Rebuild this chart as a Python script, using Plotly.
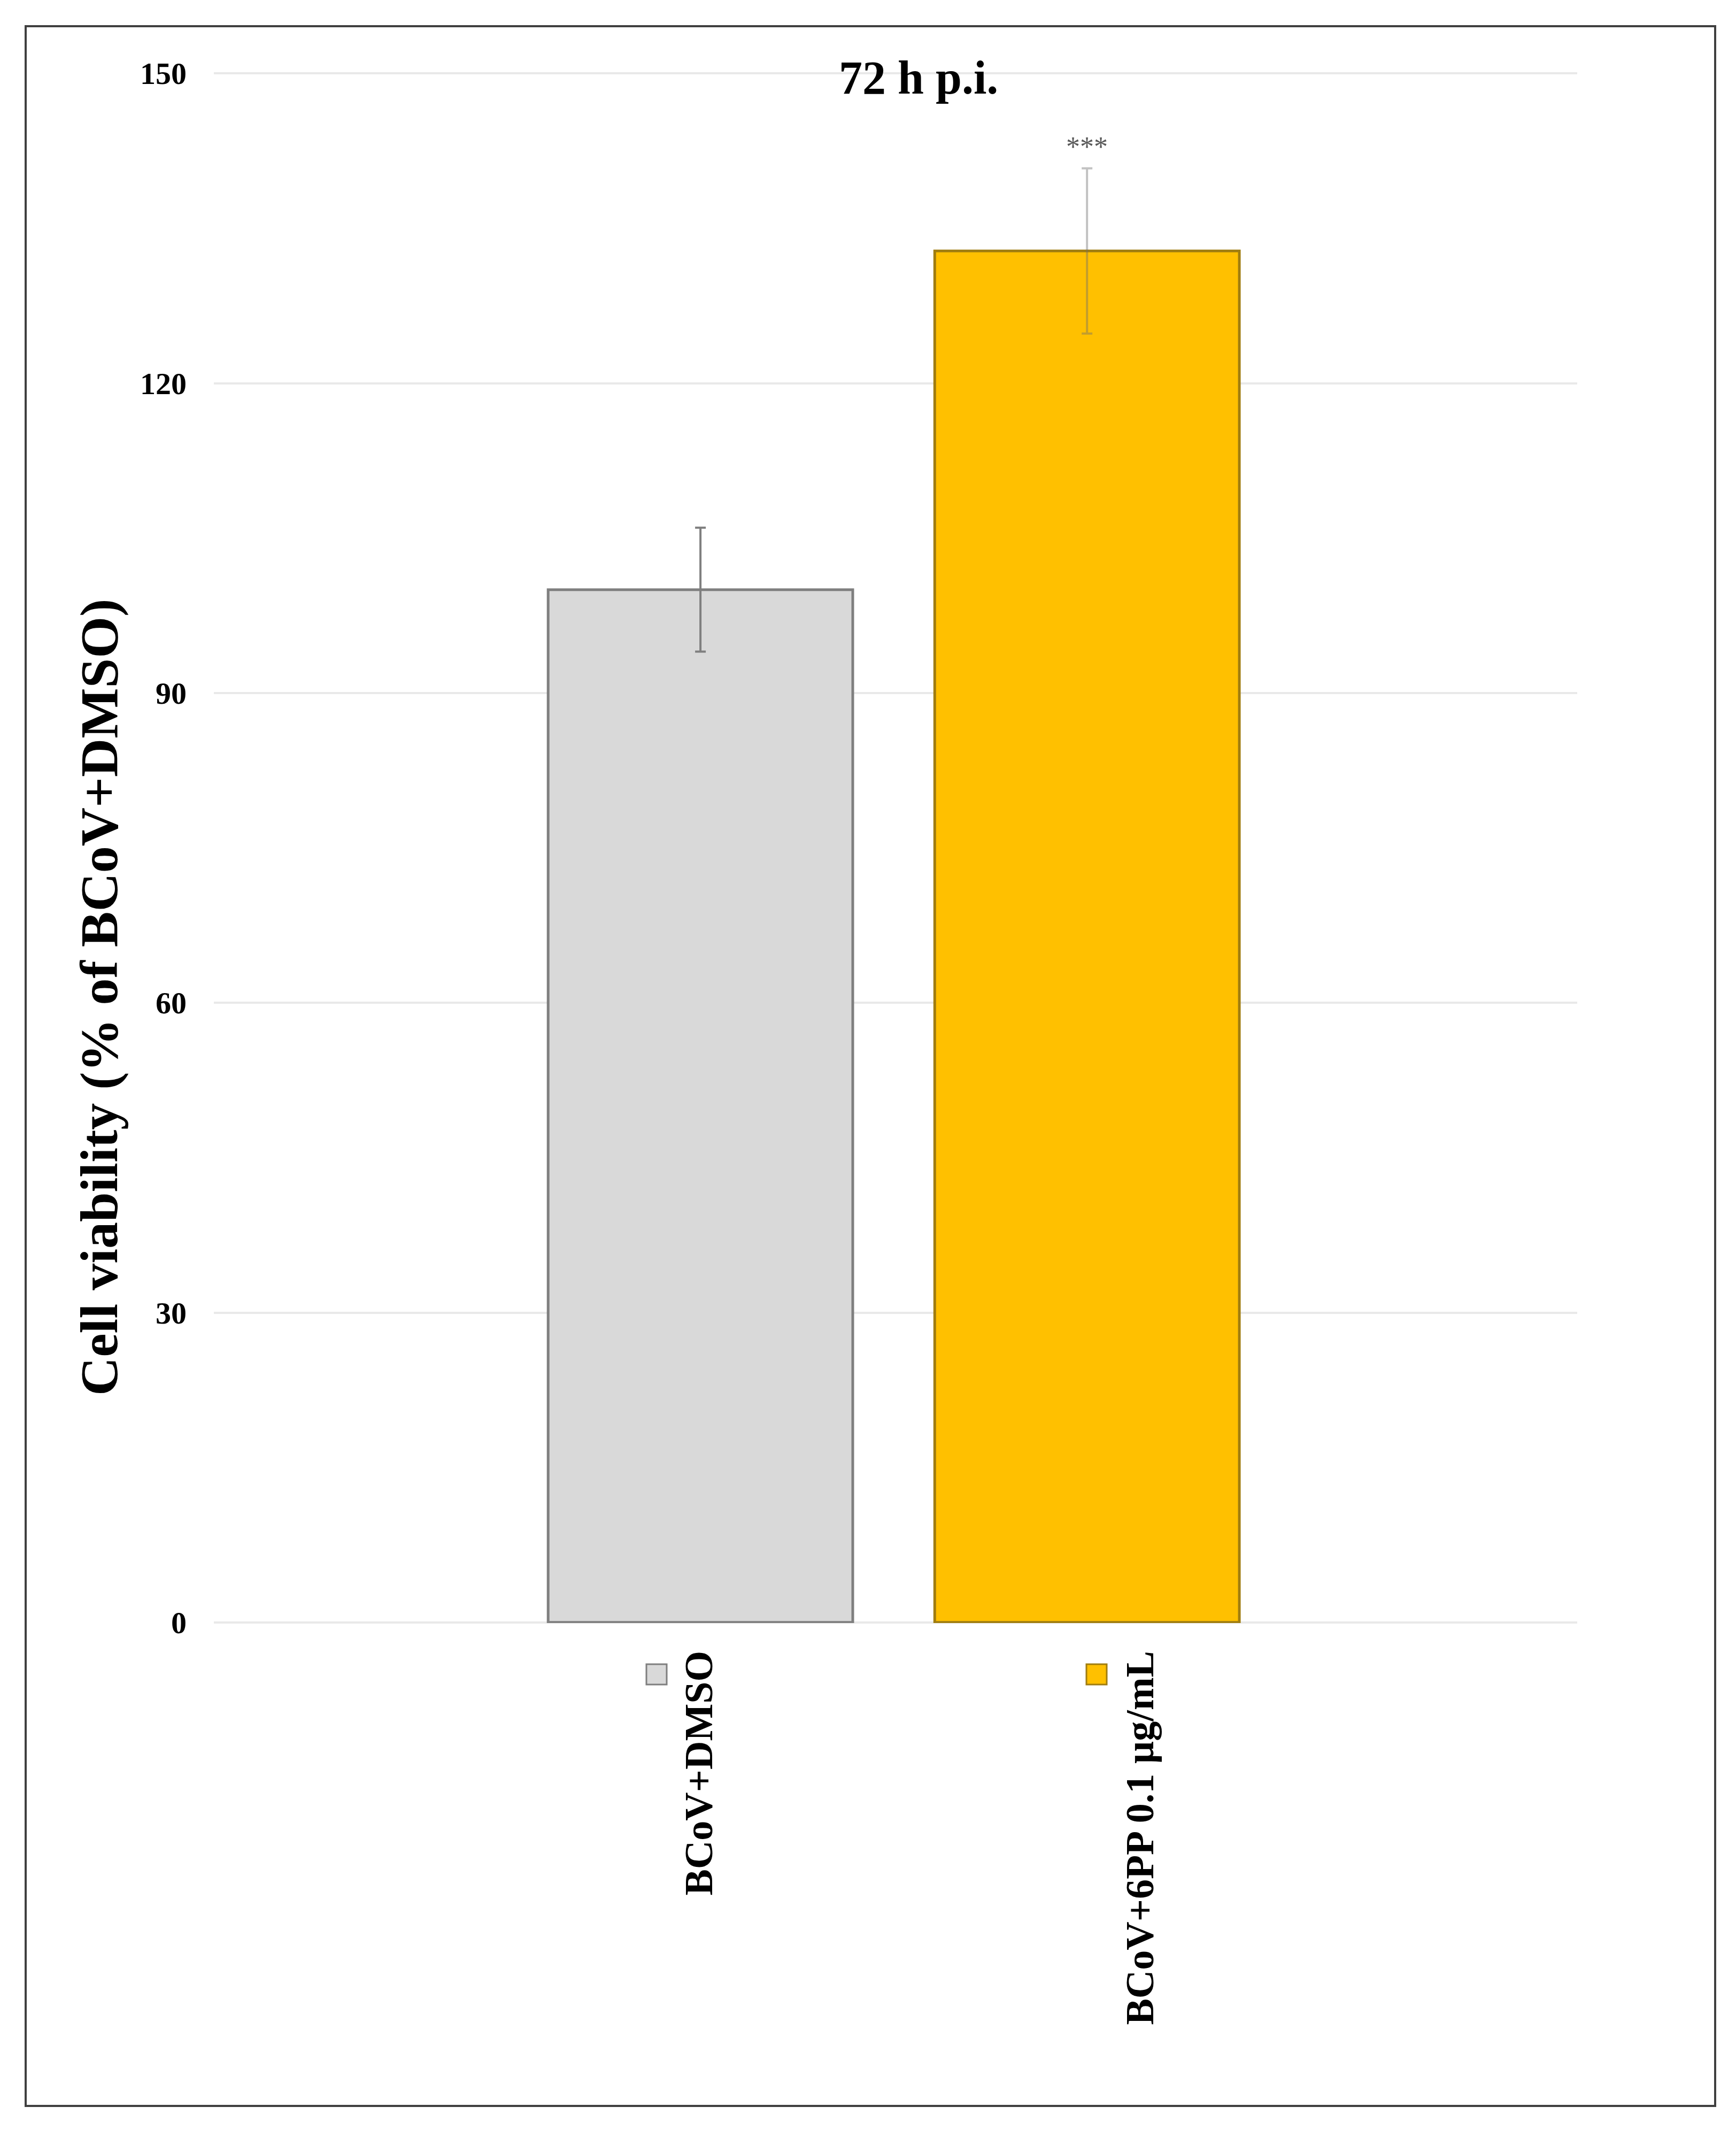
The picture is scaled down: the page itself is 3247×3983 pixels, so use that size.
import plotly.graph_objects as go

# ---- data ----
categories = ["BCoV+DMSO", "BCoV+6PP 0.1 µg/mL"]
values = [100.0, 132.8]
errors = [6.0, 8.0]
significance = ["", "***"]
y_ticks = [0, 30, 60, 90, 120, 150]

# ---- styles ----
fills = ["#d9d9d9", "#ffc000"]
outlines = ["#7f7f7f", "#a07d10"]
err_colors = ["#7f7f7f", "rgba(110,110,110,0.42)"]
label_shift = [-3, 99]     # px offset of the rotated category labels
key_px = [1220, 2043]      # px centre of legend-key squares
FONT = "Liberation Serif, Times New Roman, serif"

W, H = 3247, 3983
L, R, T, B = 392, 305, 128, 956
pw, ph = W - L - R, H - T - B


def px_x(p):
    return (p - L) / pw


def px_y(p):
    return (H - B - p) / ph


fig = go.Figure()
for i, cat in enumerate(categories):
    fig.add_trace(go.Bar(
        x=[i], y=[values[i]], width=0.788,
        marker=dict(color=fills[i], line=dict(color=outlines[i], width=5)),
        error_y=dict(type="data", array=[errors[i]], visible=True,
                     color=err_colors[i], thickness=4, width=10),
        showlegend=False, name=cat,
    ))

annotations = []
shapes = []
for i, cat in enumerate(categories):
    annotations.append(dict(
        x=i, y=0, xref="x", yref="y", text="<b>%s</b>" % cat,
        textangle=-90, showarrow=False, xanchor="center", yanchor="top",
        xshift=label_shift[i], yshift=-52,
        font=dict(family=FONT, size=74, color="#000000")))
    shapes.append(dict(
        type="rect", xref="paper", yref="paper",
        x0=px_x(key_px[i] - 19), x1=px_x(key_px[i] + 19),
        y0=px_y(3142), y1=px_y(3104),
        fillcolor=fills[i], line=dict(color=outlines[i], width=3)))
    if significance[i]:
        annotations.append(dict(
            x=i, y=values[i] + errors[i], xref="x", yref="y",
            text=significance[i], showarrow=False, yanchor="bottom",
            yshift=10, font=dict(family=FONT, size=52, color="#595959")))

annotations.append(dict(
    x=px_x(1710), y=px_y(138), xref="paper", yref="paper",
    text="<b>72 h p.i.</b>", showarrow=False, xanchor="center", yanchor="middle",
    font=dict(family=FONT, size=88, color="#000000")))
annotations.append(dict(
    x=px_x(178), y=px_y(1857), xref="paper", yref="paper",
    text="<b>Cell viability (% of BCoV+DMSO)</b>", textangle=-90, showarrow=False,
    xanchor="center", yanchor="middle",
    font=dict(family=FONT, size=100, color="#000000")))

shapes.append(dict(
    type="rect", xref="paper", yref="paper",
    x0=px_x(40), x1=px_x(3200), y0=px_y(3930), y1=px_y(41),
    line=dict(color="#404040", width=4), fillcolor="rgba(0,0,0,0)", layer="below"))

fig.update_layout(
    width=W, height=H,
    margin=dict(l=L, r=R, t=T, b=B, pad=0),
    paper_bgcolor="white", plot_bgcolor="white",
    xaxis=dict(range=[-1.2587, 2.268], showticklabels=False, showgrid=False,
               zeroline=False, showline=False, ticks=""),
    yaxis=dict(range=[-0.06, 150.06], tickvals=y_ticks,
               showgrid=True, gridcolor="#e9e9e9", gridwidth=4,
               zeroline=False, showline=False, ticks="", ticklabelstandoff=50,
               tickfont=dict(family=FONT, size=58, color="#000000", weight="bold")),
    annotations=annotations, shapes=shapes,
)

fig.write_html("out.html")
